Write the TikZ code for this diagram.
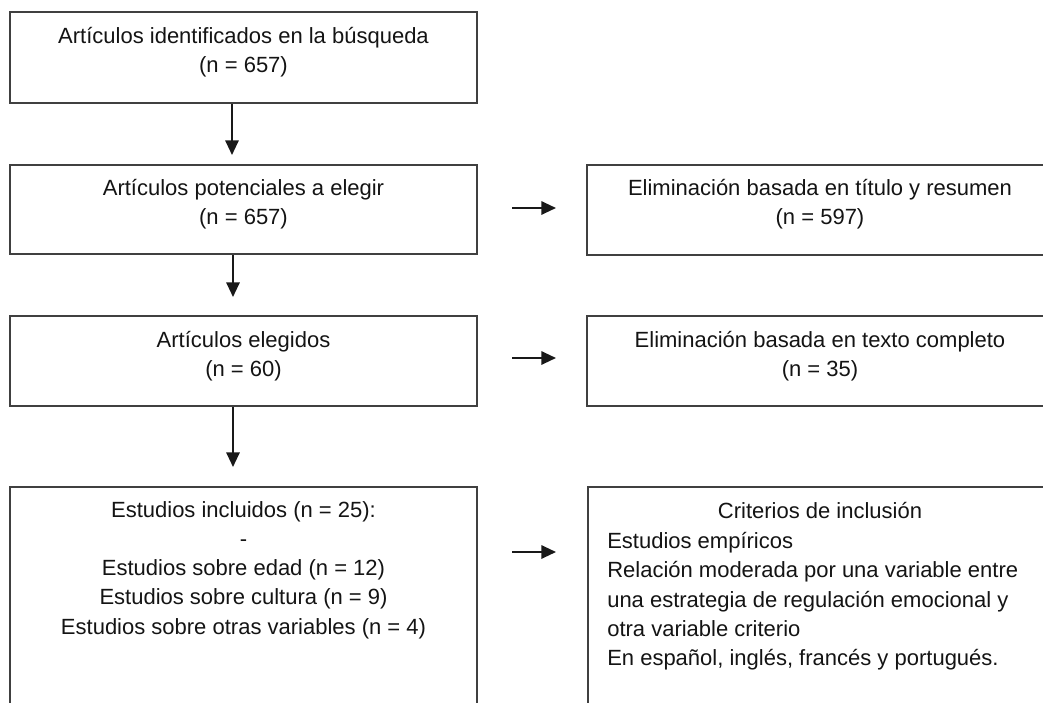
\documentclass[tikz,border=0pt]{standalone}
\usepackage{fontspec}
\setmainfont{Liberation Sans}
\usetikzlibrary{arrows.meta,fit}
\definecolor{boxgray}{HTML}{404040}
\definecolor{txtc}{HTML}{141414}
\begin{document}
\begin{tikzpicture}[x=0.75pt,y=-0.75pt,
  box/.style={draw=boxgray, line width=1.6pt, rectangle, inner sep=0pt},
  txt/.style={align=center, font=\fontsize{16.5}{21.9}\selectfont, text=txtc, inner sep=0pt},
  ltxt/.style={align=left, font=\fontsize{16.5}{22}\selectfont, text=txtc, inner sep=0pt},
  arr/.style={draw=black!90, line width=1.5pt, -{Triangle[length=11pt,width=10pt]}}]
\useasboundingbox (0,0) rectangle (1043,703);
\fill[white] (0,0) rectangle (1043,703);
\begin{scope}
\clip (0,0) rectangle (1043,703);
% left column boxes
\node[box, fit={(10,12) (477,103)}] (b1) {};
\node[box, fit={(10,165) (477,254)}] (b2) {};
\node[box, fit={(10,316) (477,406)}] (b3) {};
\node[box, fit={(10,487) (477,760)}] (b4) {};
% right column boxes
\node[box, fit={(587,165) (1053,255)}] (r2) {};
\node[box, fit={(587,316) (1053,406)}] (r3) {};
\node[box, fit={(588,487) (1060,760)}] (r4) {};
% texts
\node[txt] (t1) at (243.5,52) {Artículos identificados en la búsqueda\\(n = 657)};
\node[txt] (t2) at (243.5,204) {Artículos potenciales a elegir\\(n = 657)};
\node[txt] (t3) at (243.5,356) {Artículos elegidos\\(n = 60)};
\node[txt, anchor=north] (t4) at (243.5,501) {Estudios incluidos (n = 25):\\-\\Estudios sobre edad (n = 12)\\Estudios sobre cultura (n = 9)\\Estudios sobre otras variables (n = 4)};
\node[txt] (s2) at (820,204) {Eliminación basada en título y resumen\\(n = 597)};
\node[txt] (s3) at (820,356) {Eliminación basada en texto completo\\(n = 35)};
\node[txt, anchor=north] (s4a) at (820,502) {Criterios de inclusión};
\node[ltxt, anchor=north west] (s4b) at (607,532) {Estudios empíricos\\Relación moderada por una variable entre\\una estrategia de regulación emocional y\\otra variable criterio\\En español, inglés, francés y portugués.};
% arrow ends
\coordinate (v1) at (232,155);
\coordinate (v2) at (233,297);
\coordinate (v3) at (233,467);
\coordinate (h1s) at (512,208);
\coordinate (h1e) at (556,208);
\coordinate (h2s) at (512,358);
\coordinate (h2e) at (556,358);
\coordinate (h3s) at (512,552);
\coordinate (h3e) at (556,552);
\draw[arr] (b1.south -| v1) -- (v1);
\draw[arr] (b2.south -| v2) -- (v2);
\draw[arr] (b3.south -| v3) -- (v3);
\draw[arr] (h1s) -- (h1e);
\draw[arr] (h2s) -- (h2e);
\draw[arr] (h3s) -- (h3e);
\end{scope}
\end{tikzpicture}
\end{document}
